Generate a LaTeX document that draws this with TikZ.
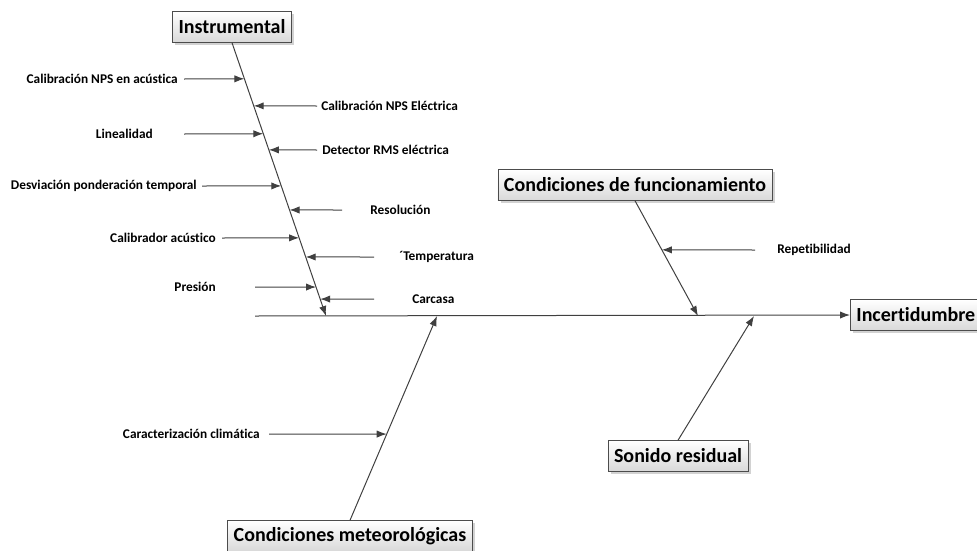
\documentclass[tikz,border=0pt]{standalone}
\usepackage{fontspec}
\setmainfont{Carlito}[Ligatures={NoCommon}]
\usetikzlibrary{arrows.meta,shadows}

\tikzset{
  cat/.style={draw=black!70, line width=0.6pt, top color=white, bottom color=black!15,
    drop shadow={shadow xshift=2pt, shadow yshift=-2pt, fill=black!35},
    font=\fontsize{15}{18}\selectfont\bfseries, inner xsep=4.5pt, minimum height=23pt},
  lab/.style={font=\fontsize{10}{12}\selectfont\bfseries, inner sep=0pt},
  bone/.style={draw=black!75, line width=0.75pt, -{Latex[length=7.5pt,width=5.5pt]}},
}

\begin{document}
\begin{tikzpicture}[x=0.75pt,y=-0.75pt]
\useasboundingbox (0,0) rectangle (977,550);

\node[cat] (Ins) at (232,27) {Instrumental};
\node[cat] (Fun) at (635,185) {Condiciones de funcionamiento};
\node[cat] (Met) at (350,536) {Condiciones meteorológicas};
\node[cat] (Son) at (678,456) {Sonido residual};
\node[cat, anchor=west] (Inc) at (850,315) {Incertidumbre};

\coordinate (S0) at (255,316);
\coordinate (I1) at (326,316);
\coordinate (F1) at (698,316);
\coordinate (M1) at (437,316);
\coordinate (R1) at (754,316);

% espina y ramas
\draw[bone] (S0) -> (Inc.west);
\draw[bone] (Ins.south) -> (I1);
\draw[bone] (Fun.south) -> (F1);
\draw[bone] (Met.north) -> (M1);
\draw[bone] (Son.north) -> (R1);

% puntos sobre las ramas
\path (Ins.south) -- (I1)
  coordinate[pos=0.132] (B1) coordinate[pos=0.231] (B2)
  coordinate[pos=0.333] (B3) coordinate[pos=0.392] (B4)
  coordinate[pos=0.524] (B5) coordinate[pos=0.612] (B6)
  coordinate[pos=0.714] (B7) coordinate[pos=0.784] (B8)
  coordinate[pos=0.894] (B9) coordinate[pos=0.938] (B10);
\path (Fun.south) -- (F1) coordinate[pos=0.426] (B11);
\path (Met.north) -- (M1) coordinate[pos=0.422] (B12);

% causas
\node[lab, anchor=east] (L1) at (178,79) {Calibración NPS en acústica};
\node[lab, anchor=east] (L2) at (153,134) {Linealidad};
\node[lab, anchor=east] (L3) at (197,186) {Desviación ponderación temporal};
\node[lab, anchor=east] (L4) at (216,238) {Calibrador acústico};
\node[lab, anchor=east] (L5) at (216,287) {Presión};
\node[lab, anchor=west] (R2) at (321,106) {Calibración NPS Eléctrica};
\node[lab, anchor=west] (R3) at (322,150) {Detector RMS eléctrica};
\node[lab, anchor=west] (R4) at (370,210) {Resolución};
\node[lab, anchor=west] (R5) at (399,257) {´Temperatura};
\node[lab, anchor=west] (R6) at (412,299) {Carcasa};
\node[lab, anchor=west] (R7) at (777,250) {Repetibilidad};
\node[lab, anchor=east] (L6) at (260,434) {Caracterización climática};

\coordinate (T1) at (184,79);
\coordinate (T2) at (317,106);
\coordinate (T3) at (184,134);
\coordinate (T4) at (317,150);
\coordinate (T5) at (202,186);
\coordinate (T6) at (342,210);
\coordinate (T7) at (222,238);
\coordinate (T8) at (374,257);
\coordinate (T9) at (255,287);
\coordinate (T10) at (374,299);
\coordinate (T11) at (755,250);
\coordinate (T12) at (269,434);

\draw[bone] (T1) -> (B1);
\draw[bone] (T2) -> (B2);
\draw[bone] (T3) -> (B3);
\draw[bone] (T4) -> (B4);
\draw[bone] (T5) -> (B5);
\draw[bone] (T6) -> (B6);
\draw[bone] (T7) -> (B7);
\draw[bone] (T8) -> (B8);
\draw[bone] (T9) -> (B9);
\draw[bone] (T10) -> (B10);
\draw[bone] (T11) -> (B11);
\draw[bone] (T12) -> (B12);
\end{tikzpicture}
\end{document}
